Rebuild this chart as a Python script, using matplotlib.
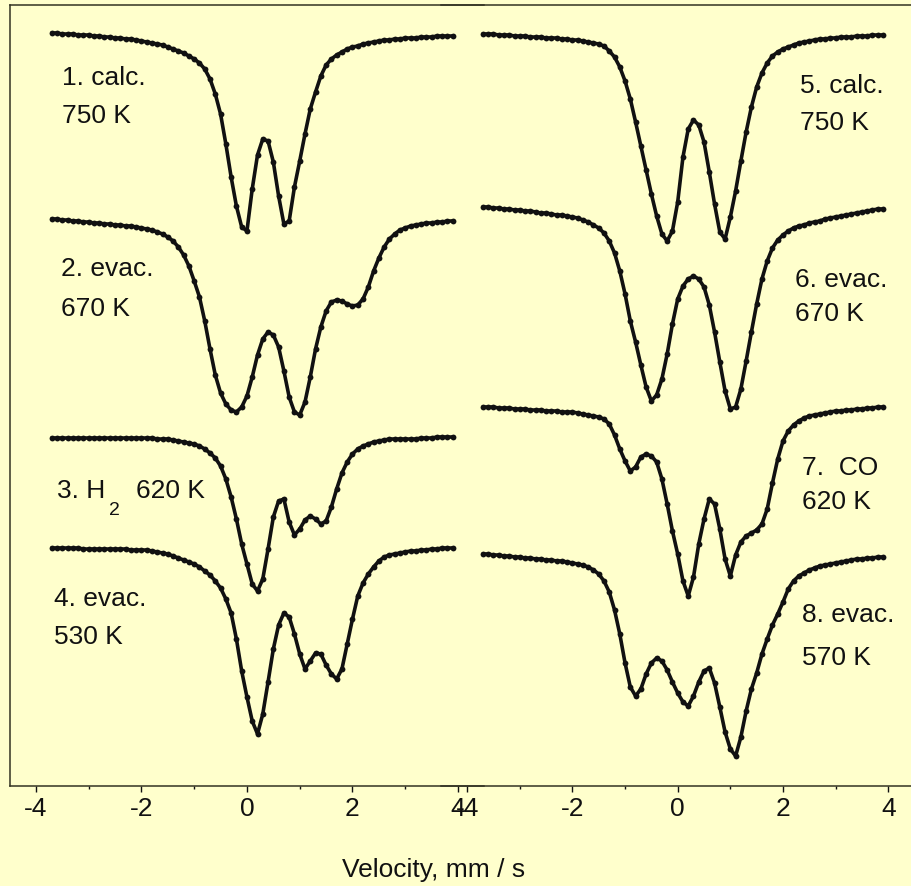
import matplotlib
matplotlib.use("Agg")
import matplotlib.pyplot as plt
from matplotlib.ticker import MultipleLocator

plt.rcParams['font.family'] = ['Liberation Sans', 'DejaVu Sans']
plt.rcParams['axes.unicode_minus'] = False

# velocity channels (mm/s)
v = [-3.7, -3.6, -3.5, -3.4, -3.3, -3.2, -3.1, -3.0, -2.9, -2.8, -2.7, -2.6, -2.5, -2.4, -2.3, -2.2,
     -2.1, -2.0, -1.9, -1.8, -1.7, -1.6, -1.5, -1.4, -1.3, -1.2, -1.1, -1.0, -0.9, -0.8, -0.7, -0.6,
     -0.5, -0.4, -0.3, -0.2, -0.1, 0.0, 0.1, 0.2, 0.3, 0.4, 0.5, 0.6, 0.7, 0.8, 0.9, 1.0,
     1.1, 1.2, 1.3, 1.4, 1.5, 1.6, 1.7, 1.8, 1.9, 2.0, 2.1, 2.2, 2.3, 2.4, 2.5, 2.6,
     2.7, 2.8, 2.9, 3.0, 3.1, 3.2, 3.3, 3.4, 3.5, 3.6, 3.7, 3.8, 3.9]

# stacked absorption (arb. units, increasing downward)
s1 = [34, 34, 35, 35, 35, 36, 36, 36, 37, 37, 38, 38, 39, 39, 40, 40,
      41, 42, 43, 44, 45, 46, 48, 50, 52, 54, 57, 60, 64, 70, 80, 95,
      115, 145, 178, 207, 228, 232, 190, 156, 140, 142, 163, 197, 225, 222, 188, 162,
      135, 110, 93, 77, 66, 60, 56, 53, 50, 48, 47, 45, 44, 43, 42, 41,
      41, 40, 40, 39, 39, 39, 38, 38, 38, 37, 37, 37, 37]
s2 = [220, 220, 221, 221, 222, 222, 223, 223, 224, 224, 225, 225, 226, 226, 227, 227,
      228, 229, 230, 231, 233, 235, 238, 242, 248, 256, 267, 282, 298, 322, 350, 376,
      394, 405, 411, 413, 408, 397, 378, 356, 340, 333, 336, 348, 372, 398, 413, 416,
      403, 378, 350, 328, 312, 303, 301, 302, 305, 307, 306, 300, 288, 272, 259, 248,
      240, 235, 231, 229, 227, 226, 225, 224, 224, 223, 223, 222, 222]
s3 = [439, 439, 439, 439, 439, 439, 439, 439, 439, 439, 439, 439, 439, 439, 439, 439,
      439, 439, 439, 439, 440, 440, 440, 441, 442, 443, 444, 445, 447, 450, 454, 459,
      467, 480, 498, 520, 545, 565, 585, 592, 580, 550, 518, 502, 500, 523, 536, 530,
      521, 517, 520, 525, 522, 508, 490, 474, 463, 455, 450, 447, 445, 443, 442, 441,
      440, 440, 440, 440, 440, 440, 439, 439, 439, 438, 438, 438, 438]
s4 = [549, 549, 549, 549, 549, 549, 550, 550, 550, 550, 550, 550, 550, 550, 550, 551,
      551, 551, 551, 552, 553, 554, 555, 557, 559, 561, 563, 565, 568, 572, 576, 582,
      589, 600, 614, 640, 672, 698, 722, 735, 715, 683, 650, 626, 614, 618, 635, 655,
      670, 662, 654, 655, 666, 675, 680, 670, 645, 620, 597, 584, 575, 568, 562, 558,
      556, 555, 554, 553, 552, 552, 551, 551, 550, 550, 549, 549, 549]
s5 = [35, 35, 35, 36, 36, 36, 37, 37, 37, 38, 38, 38, 39, 39, 39, 40,
      40, 41, 41, 42, 43, 44, 45, 47, 52, 58, 68, 82, 100, 123, 147, 171,
      195, 217, 235, 242, 232, 203, 158, 130, 121, 126, 143, 173, 205, 233, 240, 218,
      192, 162, 133, 108, 88, 74, 64, 57, 53, 50, 48, 46, 44, 43, 42, 41,
      40, 40, 39, 39, 38, 38, 38, 37, 37, 37, 36, 36, 36]
s6 = [208, 208, 209, 209, 210, 210, 211, 211, 212, 212, 213, 214, 214, 215, 216, 216,
      217, 218, 219, 221, 223, 226, 229, 234, 242, 254, 272, 295, 322, 343, 366, 388,
      402, 396, 380, 355, 325, 300, 287, 280, 277, 280, 288, 306, 333, 363, 392, 410,
      408, 390, 362, 333, 305, 280, 262, 249, 241, 236, 232, 229, 227, 226, 224, 223,
      222, 220, 219, 218, 217, 216, 215, 214, 213, 212, 211, 210, 210]
s7 = [408, 408, 408, 409, 409, 409, 410, 410, 410, 411, 411, 411, 412, 412, 412, 413,
      413, 413, 414, 415, 416, 417, 418, 420, 425, 436, 450, 462, 472, 468, 458, 455,
      457, 463, 480, 505, 532, 555, 582, 597, 578, 545, 520, 500, 505, 530, 560, 577,
      556, 543, 537, 534, 531, 525, 510, 484, 460, 442, 432, 426, 422, 419, 417, 416,
      415, 414, 413, 412, 412, 411, 411, 410, 410, 409, 409, 408, 408]
s8 = [555, 555, 556, 556, 557, 557, 558, 558, 559, 559, 560, 560, 561, 561, 562, 562,
      563, 564, 565, 566, 568, 571, 575, 582, 593, 611, 635, 664, 688, 697, 690, 675,
      664, 659, 662, 671, 683, 694, 703, 707, 697, 683, 672, 669, 684, 708, 733, 750,
      757, 738, 712, 690, 674, 655, 640, 626, 615, 603, 590, 582, 577, 574, 571, 569,
      567, 566, 565, 564, 563, 562, 561, 560, 560, 559, 559, 558, 558]

left_spectra = [s1, s2, s3, s4]
right_spectra = [s5, s6, s7, s8]

BG = '#FFFFCC'
INK = '#111111'

fig = plt.figure(figsize=(9.11, 8.87), dpi=100, facecolor=BG)
axL = fig.add_axes([9.5 / 911, 100 / 887, 474.9 / 911, 781 / 887])
axR = fig.add_axes([440.8 / 911, 100 / 887, 473.8 / 911, 781 / 887])

fs = 19

for ax, spectra in ((axL, left_spectra), (axR, right_spectra)):
    ax.set_facecolor('none')
    ax.set_xlim(-4.5, 4.5)
    ax.set_ylim(787, 6)
    for s in spectra:
        ax.plot(v, s, color=INK, lw=2.6, zorder=3, solid_capstyle='round')
        ax.plot(v, s, 'o', color=INK, ms=4.2, mew=0, zorder=4)
    ax.xaxis.set_major_locator(MultipleLocator(2))
    ax.xaxis.set_minor_locator(MultipleLocator(1))
    ax.tick_params(axis='x', which='major', direction='out', length=4.5, width=1.0,
                   pad=3, labelsize=fs, colors=INK)
    ax.tick_params(axis='x', which='minor', direction='out', length=2.5, width=1.0, colors=INK)
    ax.set_yticks([])
    for side in ('top', 'bottom', 'left', 'right'):
        ax.spines[side].set_color('#333322')
        ax.spines[side].set_linewidth(1.1)
    ax.spines['right'].set_visible(False)

axR.spines['left'].set_visible(False)


def lab(ax, x, y, s, **kw):
    ax.text(x, y, s, fontsize=fs, color=INK, ha='left', va='center', **kw)


lab(axL, -3.51, 78, '1. calc.')
lab(axL, -3.51, 116, '750 K')
lab(axL, -3.53, 269, '2. evac.')
lab(axL, -3.53, 309, '670 K')
lab(axL, -3.60, 491, '3. H')
axL.text(-2.62, 511, '2', fontsize=14, color=INK, ha='left', va='center')
lab(axL, -2.10, 491, '620 K')
lab(axL, -3.66, 599, '4. evac.')
lab(axL, -3.66, 637, '530 K')

lab(axR, 2.32, 86, '5. calc.')
lab(axR, 2.32, 123, '750 K')
lab(axR, 2.23, 280, '6. evac.')
lab(axR, 2.23, 314, '670 K')
lab(axR, 2.36, 468, '7.  CO')
lab(axR, 2.36, 502, '620 K')
lab(axR, 2.36, 615, '8. evac.')
lab(axR, 2.36, 658, '570 K')

fig.text(434 / 911, 1 - 870 / 887, 'Velocity, mm / s', fontsize=fs, color=INK,
         ha='center', va='center')

fig.savefig('out.png', dpi=100, facecolor=BG)
